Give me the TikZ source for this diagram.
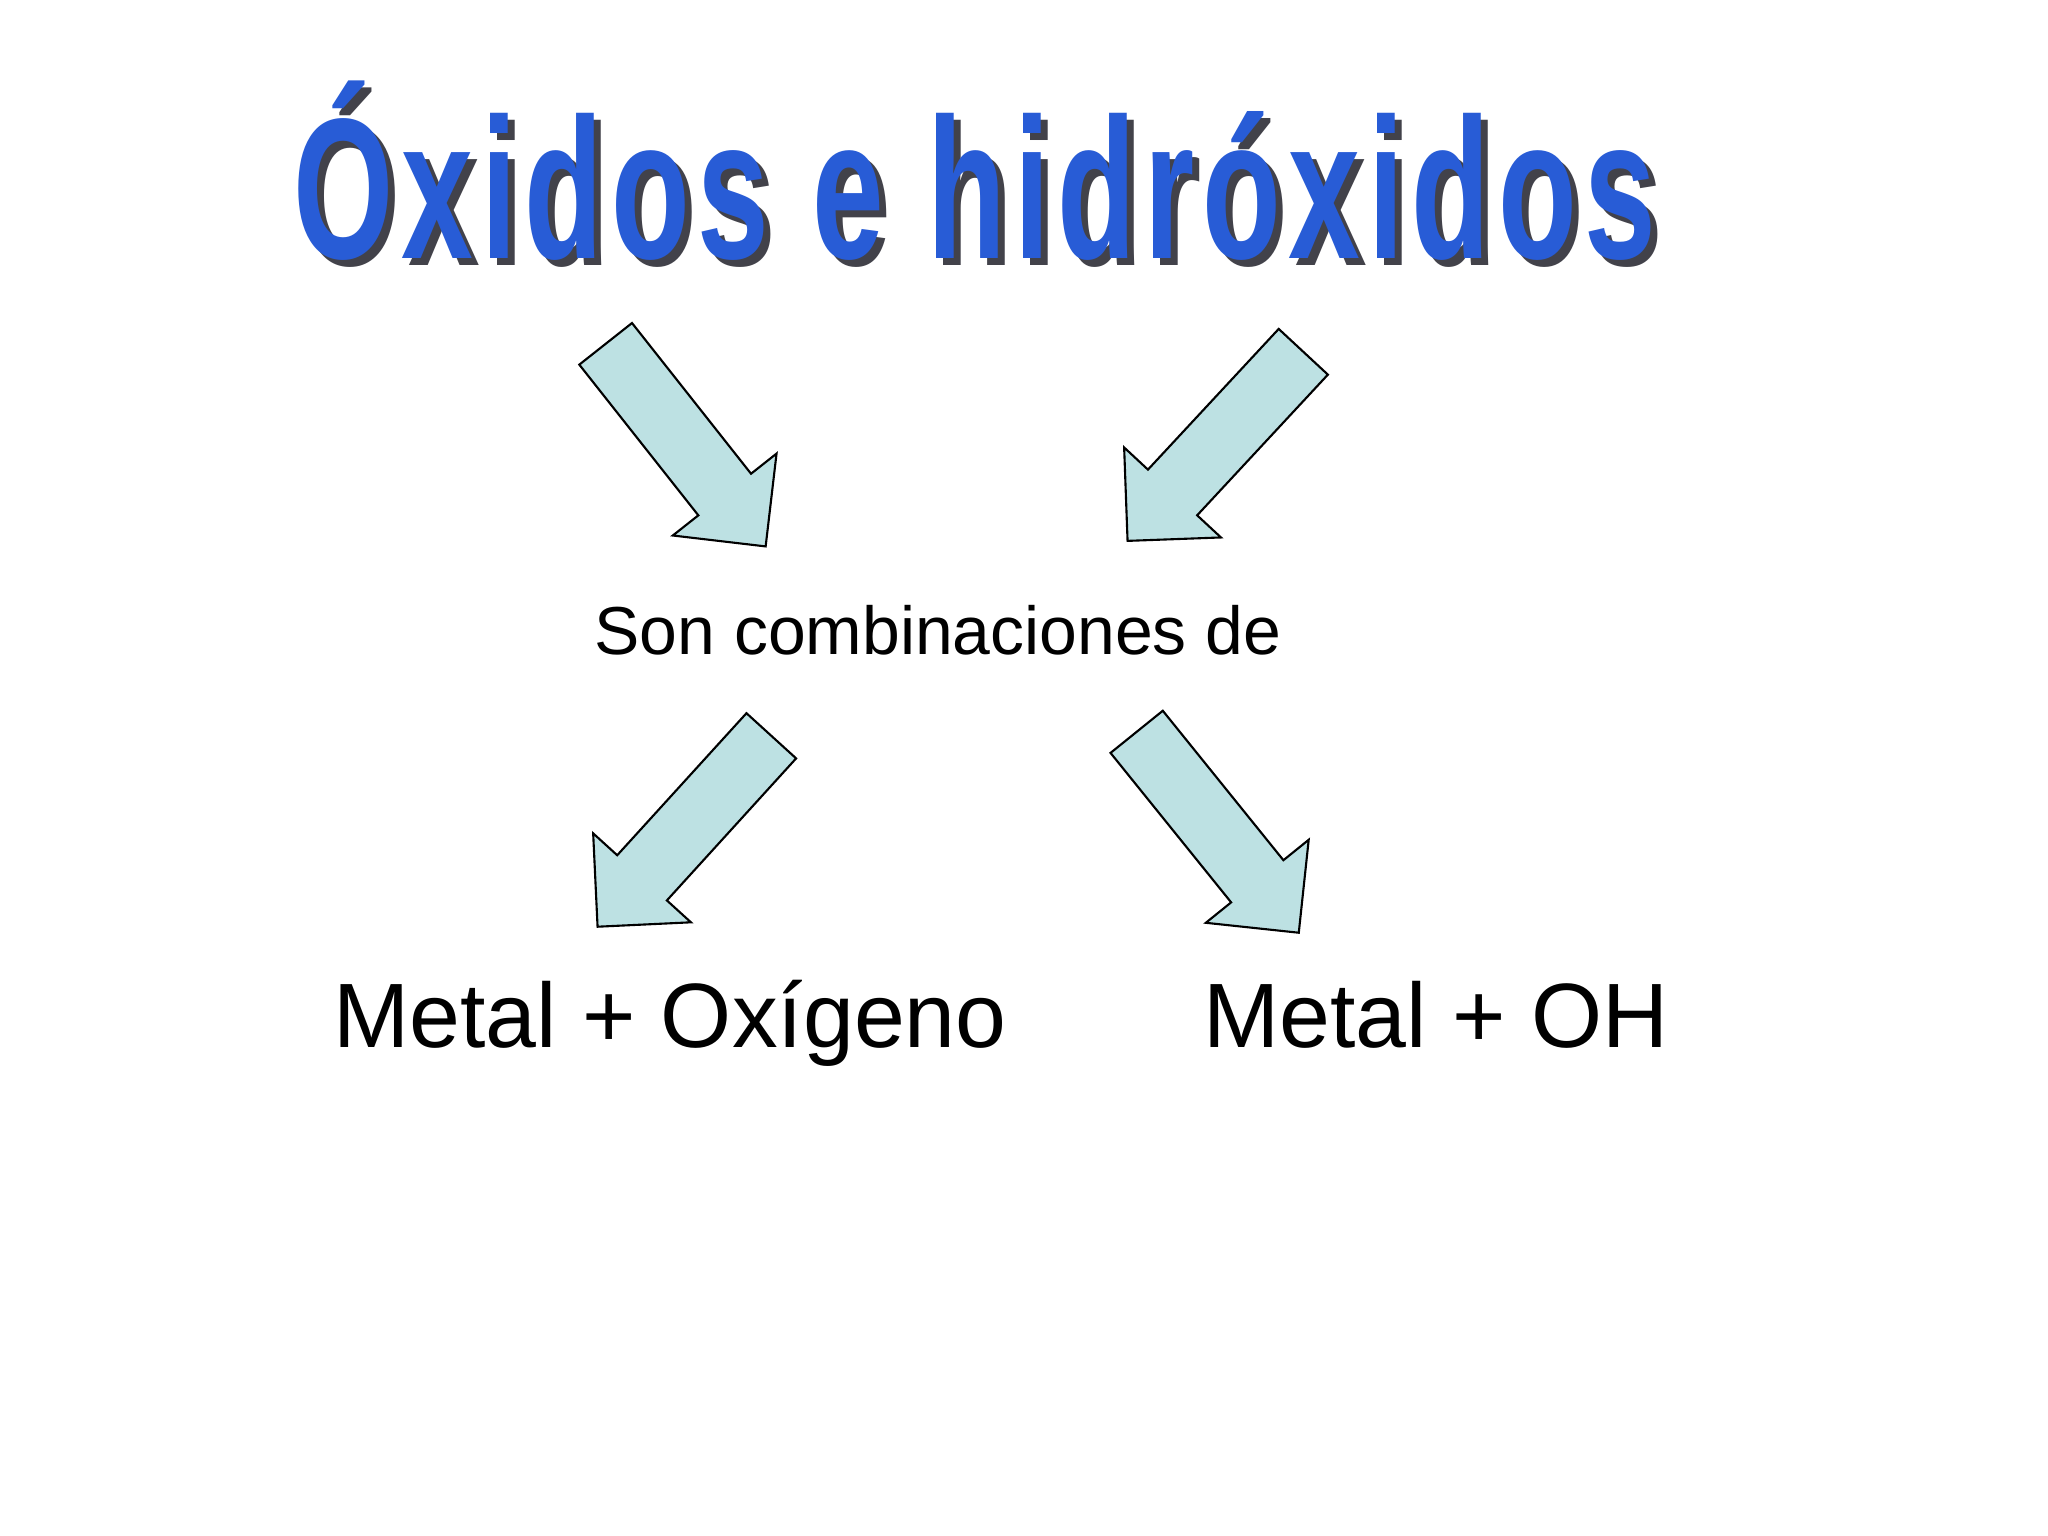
\documentclass[tikz,border=0pt]{standalone}
\usepackage{fontspec}
\setmainfont{Liberation Sans}
\usepackage{graphicx}
\usetikzlibrary{shapes.arrows}
\definecolor{azultitulo}{RGB}{40,92,214}
\definecolor{sombra}{RGB}{66,66,74}
\definecolor{celeste}{RGB}{189,225,227}
\tikzset{flecha/.style={single arrow,draw=black,fill=celeste,line width=0.6pt,
minimum height=2.58cm,text height=0.65cm,text depth=0pt,text width=0pt,
single arrow head extend=0.325cm,inner sep=0pt,anchor=tail},
}

\begin{document}
\begin{tikzpicture}[x=0.01cm,y=-0.01cm,
titulo/.style={font=\fontsize{57}{60}\selectfont\bfseries\addfontfeature{LetterSpace=6},anchor=base,inner sep=0pt},
texto/.style={font=\fontsize{26}{30}\selectfont,anchor=base,inner sep=0pt}]

\useasboundingbox[fill=white] (0,0) rectangle (2048,1536);

\node[titulo,text=sombra] (sombratit) at (982,265) {\scalebox{0.643}[1]{Óxidos e hidróxidos}};
\node[titulo,text=azultitulo] (titulo) at (975,258) {\scalebox{0.643}[1]{Óxidos e hidróxidos}};

\node[texto,font=\fontsize{19.3}{23}\selectfont] (son) at (938,654) {Son combinaciones de};
\node[texto] (oxigeno) at (670,1047) {Metal + Oxígeno};
\node[texto] (oh) at (1436,1047) {Metal + OH};

\node[flecha,rotate=-51.7] (f1) at (605,343) {};
\node[flecha,rotate=-132.9] (f2) at (1304,351) {};
\node[flecha,rotate=-132.3] (f3) at (772,735) {};
\node[flecha,rotate=-51.1] (f4) at (1136,731) {};
\end{tikzpicture}
\end{document}
